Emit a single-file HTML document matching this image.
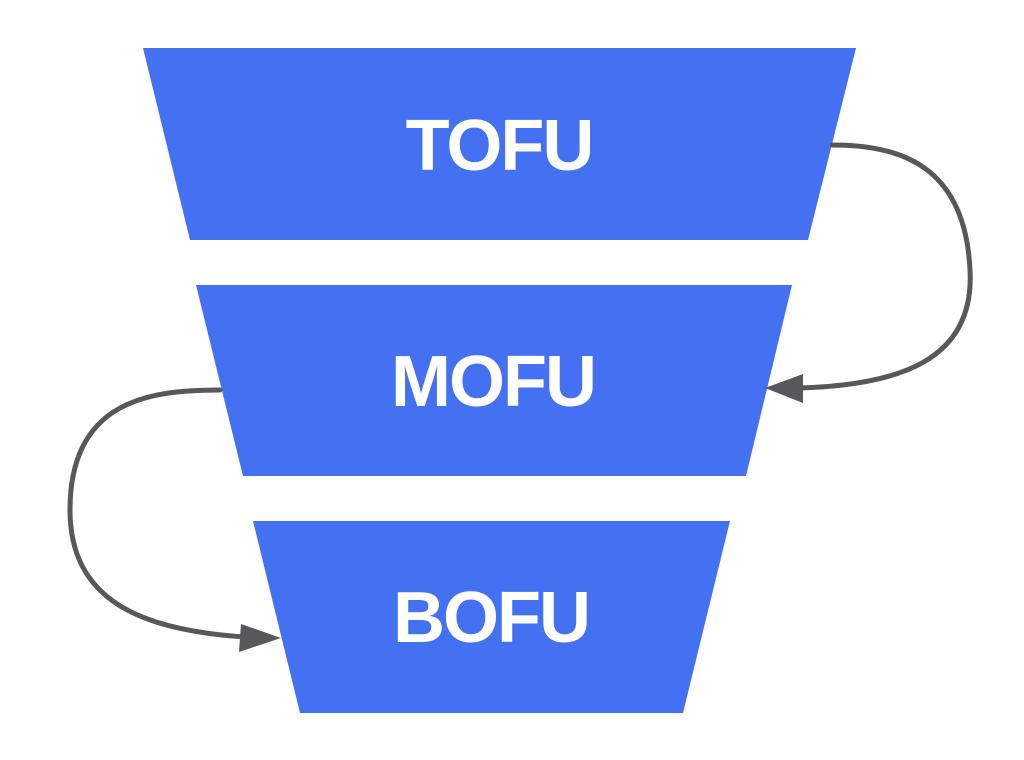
<!DOCTYPE html>
<html><head><style>
html,body{margin:0;padding:0;background:#fff;width:1024px;height:760px;overflow:hidden}
svg{display:block}
text{font-family:"Liberation Sans",sans-serif;font-weight:bold;font-size:72px;fill:#fff}
</style></head><body>
<svg width="1024" height="760" viewBox="0 0 1024 760">
<polygon points="143,48 856,48 808,240 190,240" fill="#4470f2"/>
<polygon points="196,285 792,285 746,476 243,476" fill="#4470f2"/>
<polygon points="253,521 730,521 683,713 300,713" fill="#4470f2"/>
<text x="499" y="170" text-anchor="middle" letter-spacing="-2">TOFU</text>
<text x="493" y="406" text-anchor="middle" letter-spacing="-2">MOFU</text>
<text x="491" y="642" text-anchor="middle" letter-spacing="-2">BOFU</text>
<g fill="none" stroke="#58585a" stroke-width="5" stroke-linecap="round">
<path d="M832,145 C900,145 965,165 970,270 C975,360 900,385 800,388"/>
<path d="M220,390 C150,390 70,400 70,510 C70,600 140,630 245,637"/>
</g>
<polygon points="765,388 803,374 803,403" fill="#58585a"/>
<polygon points="281,638 241,624 239,652" fill="#58585a"/>
</svg>
</body></html>
